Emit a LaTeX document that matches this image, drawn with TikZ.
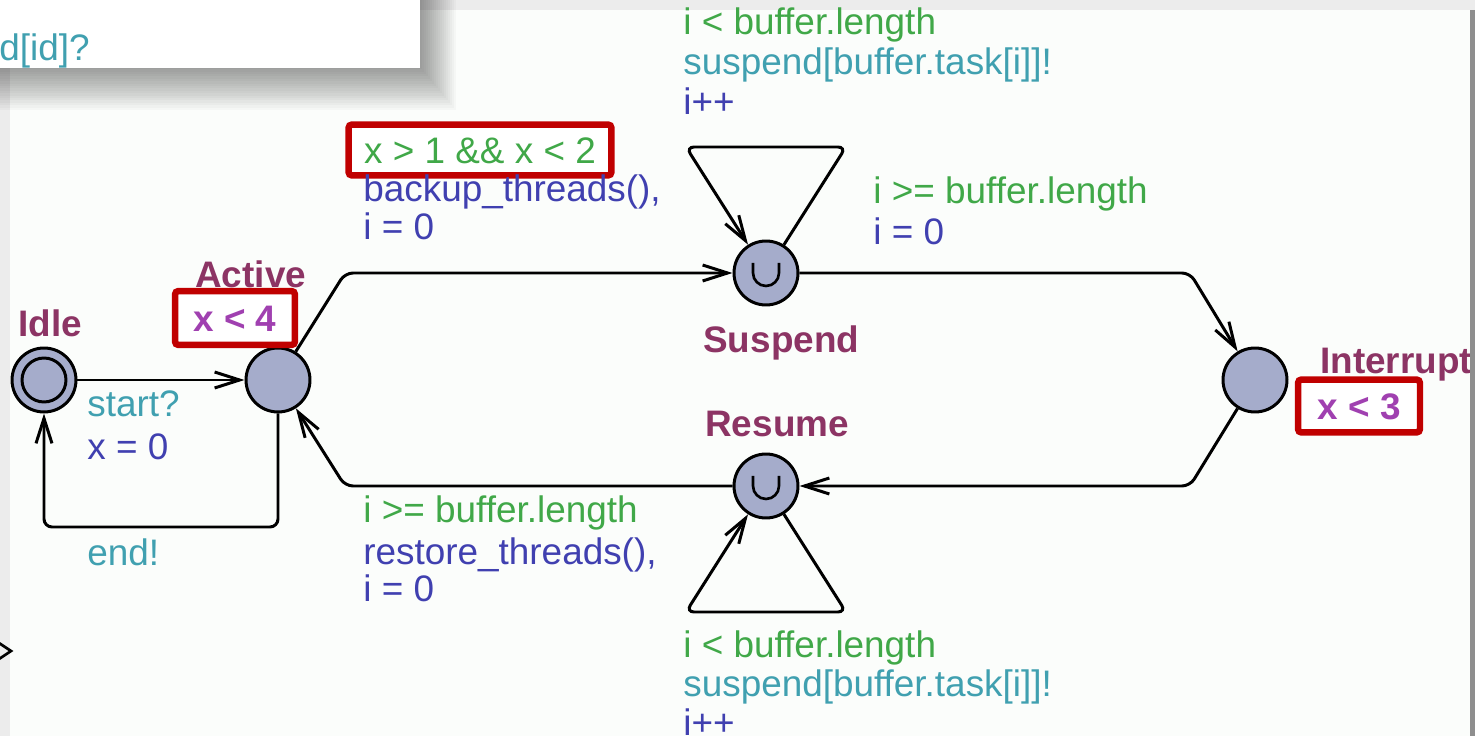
\documentclass[tikz,border=0pt]{standalone}
\usepackage{fontspec}
\setmainfont{Liberation Sans}
\usetikzlibrary{arrows.meta}

\definecolor{panelcol}{RGB}{251,253,251}
\definecolor{framecol}{RGB}{236,236,236}
\definecolor{barcol}{RGB}{142,142,142}
\definecolor{locfill}{RGB}{165,172,203}
\definecolor{namecol}{RGB}{140,52,100}
\definecolor{invcol}{RGB}{160,64,176}
\definecolor{grdcol}{RGB}{64,168,72}
\definecolor{syncol}{RGB}{64,160,176}
\definecolor{updcol}{RGB}{64,64,176}
\definecolor{redcol}{RGB}{192,0,0}

\newcommand{\labelsize}{\fontsize{21pt}{22.8pt}\selectfont}

\tikzset{
    loc/.style={circle, draw, line width=1.7pt, fill=locfill, minimum size=1.28cm, inner sep=0pt},
    lname/.style={anchor=base west, inner sep=0pt, text=namecol, font=\labelsize\bfseries},
    guardtxt/.style={anchor=base west, inner sep=0pt, text=grdcol},
    synctxt/.style={anchor=base west, inner sep=0pt, text=syncol},
    updtxt/.style={anchor=base west, inner sep=0pt, text=updcol},
    redbox/.style={draw=redcol, fill=white, line width=0.13cm, rounded corners=2pt,
        inner sep=0pt, text height=0.53cm, text depth=0pt},
    invtxt/.style={redbox, text=invcol, font=\labelsize\bfseries},
    edge/.style={line width=1.7pt, rounded corners=0.16cm,
        -{Straight Barb[length=0.5cm,width=0.32cm]}}
}

\begin{document}
\begin{tikzpicture}[x=0.02cm, y=-0.02cm, font=\labelsize]
    \useasboundingbox (0,0) rectangle (1475,736);
    % window background
    \fill[framecol] (0,0) rectangle (1475,736);
    \fill[panelcol] (10,10) rectangle (1470,736);
    % popup box with its shadow
    \foreach \s in {1,...,20}
        \fill[black, opacity=0.025] (-10,-10) rectangle (416+2*\s, 62+2.4*\s);
    \fill[white] (-10,-10) rectangle (420,68);
    \node[synctxt] (popup) at (-1,61) {d[id]?};
    \draw[line width=1.5pt, fill=framecol] (-4,641) -- (11,651) -- (-4,661);

    % locations
    \node[loc] (idle) at (44,380) {};
    \draw[line width=1.7pt] (idle.center) circle[radius=0.44cm];
    \node[loc] (act) at (278,380) {};
    \node[loc] (sus) at (766,273) {};
    \node[loc] (res) at (766,486) {};
    \node[loc] (irq) at (1255,380) {};
    \foreach \n in {sus,res}
        \draw[line width=1.5pt] ([shift={(-13,-10)}]\n.center) -- ++(0,10)
            arc[start angle=180, end angle=360, radius=0.26cm] -- ++(0,-10);

    \node[lname] (idlename) at (18,337) {Idle};
    \node[lname] (actname) at (195,288) {Active};
    \node[lname] (susname) at (703,353) {Suspend};
    \node[lname] (resname) at (705,437) {Resume};
    \node[lname] (irqname) at (1320,374) {Interrupt};
    \node[invtxt, minimum width=2.4cm, minimum height=1.08cm] (actinv) at (235,318) {x < 4};
    \node[invtxt, minimum width=2.44cm, minimum height=1.06cm] (irqinv) at (1359,406) {x < 3};

    % edges
    \draw[edge] (idle) -- (act);
    \draw[edge] (act) -- (278,527) -- (44,527) -- (idle);
    \draw[edge] (act) -- (345,273) -- (sus);
    \draw[edge] (sus) -- (846,147) -- (686,147) -- (sus);
    \draw[edge] (sus) -- (1190,273) -- (irq);
    \draw[edge] (irq) -- (1190,486) -- (res);
    \draw[edge] (res) -- (846,612) -- (686,612) -- (res);
    \draw[edge] (res) -- (345,486) -- (act);

    % edge labels
    \node[synctxt] (startsync) at (87,417) {start?};
    \node[updtxt] (startupd) at (87,460) {x = 0};
    \node[synctxt] (endsync) at (87,565) {end!};

    \node[redbox, minimum width=5.26cm, minimum height=1.02cm, text=grdcol] (backupgrd) at (480,150) {x > 1 \&\& x < 2};
    \node[updtxt] (backupupd) at (363,202) {backup\_threads(),};
    \node[updtxt] (backupi) at (363,240) {i = 0};

    \node[guardtxt] (susgrd) at (683,35) {i < buffer.length};
    \node[synctxt] (sussync) at (683,75) {suspend[buffer.task[i]]!};
    \node[updtxt] (susupd) at (683,115) {i++};

    \node[guardtxt] (irqgrd) at (873,204) {i >= buffer.length};
    \node[updtxt] (irqupd) at (873,245) {i = 0};

    \node[guardtxt] (resgrd) at (683,657) {i < buffer.length};
    \node[synctxt] (ressync) at (683,696) {suspend[buffer.task[i]]!};
    \node[updtxt] (resupd) at (683,735) {i++};

    \node[guardtxt] (restoregrd) at (363,523) {i >= buffer.length};
    \node[updtxt] (restoreupd) at (363,564) {restore\_threads(),};
    \node[updtxt] (restorei) at (363,602) {i = 0};

    % scroll bar edge
    \fill[barcol] (1470,10) rectangle (1475,736);
\end{tikzpicture}
\end{document}
